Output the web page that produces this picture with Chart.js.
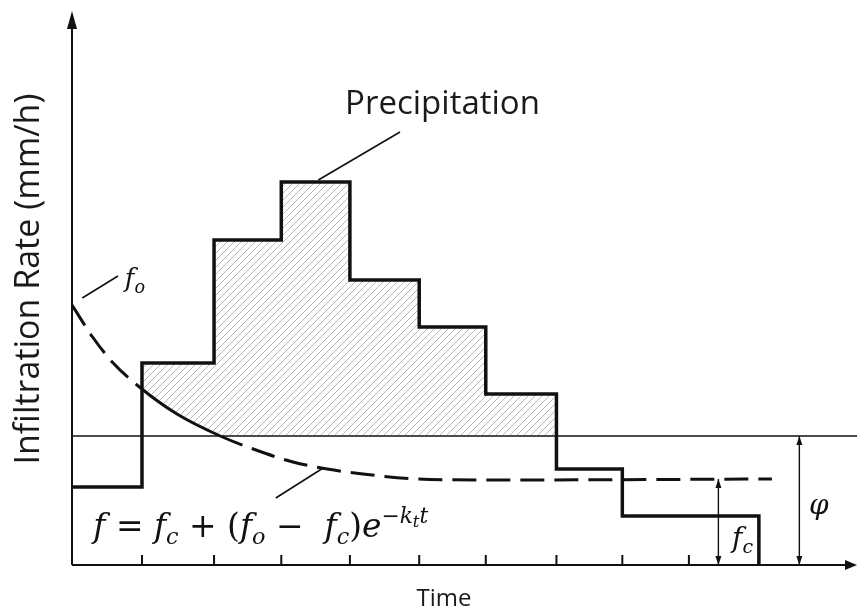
<!DOCTYPE html>
<html>
<head>
<meta charset="utf-8">
<script src="https://cdn.jsdelivr.net/npm/chart.js@4.4.1/dist/chart.umd.min.js"></script>
<style>
  html, body { margin: 0; padding: 0; background: #fff; }
  canvas { display: block; }
</style>
</head>
<body>
<canvas id="infChart" width="857" height="609"></canvas>
<script>
// precipitation hyetograph (time units, mm/h) - value holds until next time
const stepTimes = [0, 1.02, 2.07, 3.05, 4.05, 5.06, 6.03, 7.06, 8.02, 10.01];
const precipRates = [15.6, 40.4, 65.0, 76.6, 57.0, 47.6, 34.2, 19.2, 9.8, 0];

// infiltration capacity curve (Horton)
const curveTimes = [0, 0.3, 0.6, 1.0, 1.53, 2.16, 2.6, 3.22, 3.72, 4.24, 5.03, 6.1, 10.2];
const curveRates = [52.0, 45.6, 40.4, 35.4, 30.2, 25.8, 23.4, 20.6, 19.2, 18.2, 17.2, 17.0, 17.2];

// phi index and fc
const phiIndex = 25.8;
const fcRate = 17.2;

// tick marks on the time axis
const tickTimes = [1.02, 2.07, 3.05, 4.05, 5.06, 6.03, 7.06, 8.02, 8.99];

const X_MAX = 11.44;
const Y_MAX = 110;

function hatchPattern(ctx) {
  const p = document.createElement('canvas');
  p.width = 7; p.height = 7;
  const g = p.getContext('2d');
  g.strokeStyle = 'rgba(80,80,80,0.4)';
  g.lineWidth = 1;
  g.beginPath();
  g.moveTo(0, 7); g.lineTo(7, 0);
  g.moveTo(-1, 1); g.lineTo(1, -1);
  g.moveTo(6, 8); g.lineTo(8, 6);
  g.stroke();
  return ctx.createPattern(p, 'repeat');
}

const canvas = document.getElementById('infChart');
const ctx0 = canvas.getContext('2d');

const pts = (xs, ys) => xs.map((x, i) => ({ x: x, y: ys[i] }));

// lower edge of the hatched area: curve while above phi, then phi
const lowerEdge = pts(curveTimes, curveRates).filter(p => p.x >= 1.0 && p.x <= 2.16);
lowerEdge.push({ x: stepTimes[7], y: phiIndex });

const MATH_FONT = '"DejaVu Serif"';

// little helper for rich math text; fitWidth scales the whole run
function drawRich(ctx, x, y, parts, size, fitWidth) {
  const layout = (sz, draw) => {
    let cx = x;
    parts.forEach(([txt, kind, ital]) => {
      let s = sz, dy = 0;
      if (kind === 'sub') { s = sz * 0.68; dy = sz * 0.22; }
      if (kind === 'sup') { s = sz * 0.66; dy = -sz * 0.42; }
      if (kind === 'supsub') { s = sz * 0.5; dy = -sz * 0.3; }
      ctx.font = (ital ? 'italic ' : '') + s + 'px ' + MATH_FONT;
      if (draw) ctx.fillText(txt, cx, y + dy);
      cx += ctx.measureText(txt).width;
    });
    return cx - x;
  };
  let sz = size;
  if (fitWidth) sz = size * fitWidth / layout(size, false);
  layout(sz, true);
}

function arrowHead(ctx, x, y, dir, len, half) {
  ctx.beginPath();
  if (dir === 'up') { ctx.moveTo(x, y); ctx.lineTo(x - half, y + len); ctx.lineTo(x + half, y + len); }
  if (dir === 'down') { ctx.moveTo(x, y); ctx.lineTo(x - half, y - len); ctx.lineTo(x + half, y - len); }
  if (dir === 'right') { ctx.moveTo(x, y); ctx.lineTo(x - len, y - half); ctx.lineTo(x - len, y + half); }
  ctx.closePath();
  ctx.fill();
}

const decor = {
  id: 'decor',
  afterDraw(chart) {
    const ctx = chart.ctx;
    const xs = chart.scales.x, ys = chart.scales.y;
    const X = v => xs.getPixelForValue(v);
    const Y = v => ys.getPixelForValue(v);
    const area = chart.chartArea;
    ctx.save();
    ctx.strokeStyle = '#111';
    ctx.fillStyle = '#111';

    // axes
    ctx.lineWidth = 2;
    ctx.beginPath();
    ctx.moveTo(X(0), Y(0)); ctx.lineTo(X(0), area.top + 8);
    ctx.moveTo(X(0), Y(0)); ctx.lineTo(area.right - 8, Y(0));
    ctx.stroke();
    arrowHead(ctx, X(0), area.top - 4, 'up', 18, 5);
    arrowHead(ctx, area.right, Y(0), 'right', 12, 5);

    // tick marks (pointing up)
    ctx.lineWidth = 2;
    ctx.beginPath();
    tickTimes.forEach(t => { ctx.moveTo(X(t), Y(0)); ctx.lineTo(X(t), Y(0) - 10); });
    ctx.stroke();

    // leader lines
    ctx.lineWidth = 1.6;
    ctx.beginPath();
    ctx.moveTo(X(0.15), Y(53.4)); ctx.lineTo(X(0.67), Y(57.8));
    ctx.moveTo(X(3.59), Y(77)); ctx.lineTo(X(4.78), Y(86.6));
    ctx.moveTo(X(2.97), Y(13.4)); ctx.lineTo(X(3.66), Y(19.4));
    ctx.stroke();

    // dimension arrows fc and phi
    ctx.lineWidth = 1.4;
    [[9.42, fcRate], [10.6, phiIndex]].forEach(([t, v]) => {
      ctx.beginPath();
      ctx.moveTo(X(t), Y(v)); ctx.lineTo(X(t), Y(0));
      ctx.stroke();
      arrowHead(ctx, X(t), Y(v), 'up', 9, 3);
      arrowHead(ctx, X(t), Y(0), 'down', 9, 3);
    });

    // texts
    ctx.fillStyle = '#1a1a1a';
    ctx.textBaseline = 'alphabetic';
    ctx.textAlign = 'left';
    ctx.font = '33px "Open Sans"';
    ctx.fillText('Precipitation', X(3.98), Y(90.2));

    ctx.textAlign = 'center';
    ctx.font = '24px "Open Sans"';
    ctx.fillText('Time', 444, 606);

    ctx.save();
    ctx.translate(39, 279);
    ctx.rotate(-Math.PI / 2);
    ctx.font = '34px "Open Sans"';
    ctx.fillText('Infiltration Rate (mm/h)', 0, 0);
    ctx.restore();

    ctx.textAlign = 'left';
    ctx.fillStyle = '#111';
    drawRich(ctx, X(0.77), Y(55.6), [['f', 'n', 1], ['o', 'sub', 1]], 26);
    drawRich(ctx, X(0.31), Y(5.6), [
      ['f', 'n', 1], [' = ', 'n', 0], ['f', 'n', 1], ['c', 'sub', 1], [' + (', 'n', 0],
      ['f', 'n', 1], ['o', 'sub', 1], [' \u2212  ', 'n', 0], ['f', 'n', 1], ['c', 'sub', 1],
      [')', 'n', 0], ['e', 'n', 1], ['\u2212', 'sup', 0], ['k', 'sup', 1], ['t', 'supsub', 1], ['t', 'sup', 1]
    ], 30, 335);
    drawRich(ctx, X(9.62), Y(3.6), [['f', 'n', 1], ['c', 'sub', 1]], 28);
    drawRich(ctx, X(10.74), Y(10.2), [['\u03C6', 'n', 1]], 28);
    ctx.restore();
  }
};

new Chart(canvas, {
  type: 'line',
  data: {
    datasets: [
      {
        label: 'Precipitation',
        data: pts(stepTimes, precipRates),
        stepped: true,
        borderColor: '#111',
        borderWidth: 3.5,
        pointRadius: 0,
        fill: { target: 1, above: hatchPattern(ctx0), below: 'rgba(0,0,0,0)' }
      },
      {
        label: 'lower edge',
        data: lowerEdge,
        borderWidth: 0,
        borderColor: 'rgba(0,0,0,0)',
        pointRadius: 0,
        fill: false
      },
      {
        label: 'Infiltration capacity',
        data: pts(curveTimes, curveRates),
        borderColor: '#111',
        borderWidth: 3,
        pointRadius: 0,
        cubicInterpolationMode: 'monotone',
        fill: false,
        segment: {
          borderDash: c => (c.p0.parsed.x >= 0.99 && c.p1.parsed.x <= 2.17) ? [] : [24, 10]
        }
      },
      {
        label: 'phi',
        data: [{ x: 0, y: phiIndex }, { x: X_MAX, y: phiIndex }],
        borderColor: '#111',
        borderWidth: 1.5,
        pointRadius: 0,
        fill: false
      }
    ]
  },
  options: {
    responsive: false,
    animation: false,
    layout: { padding: { left: 72, right: 0, top: 15, bottom: 44 } },
    scales: {
      x: { type: 'linear', min: 0, max: X_MAX, display: false },
      y: { type: 'linear', min: 0, max: Y_MAX, display: false }
    },
    plugins: { legend: { display: false }, tooltip: { enabled: false } }
  },
  plugins: [decor]
});
</script>
</body>
</html>
